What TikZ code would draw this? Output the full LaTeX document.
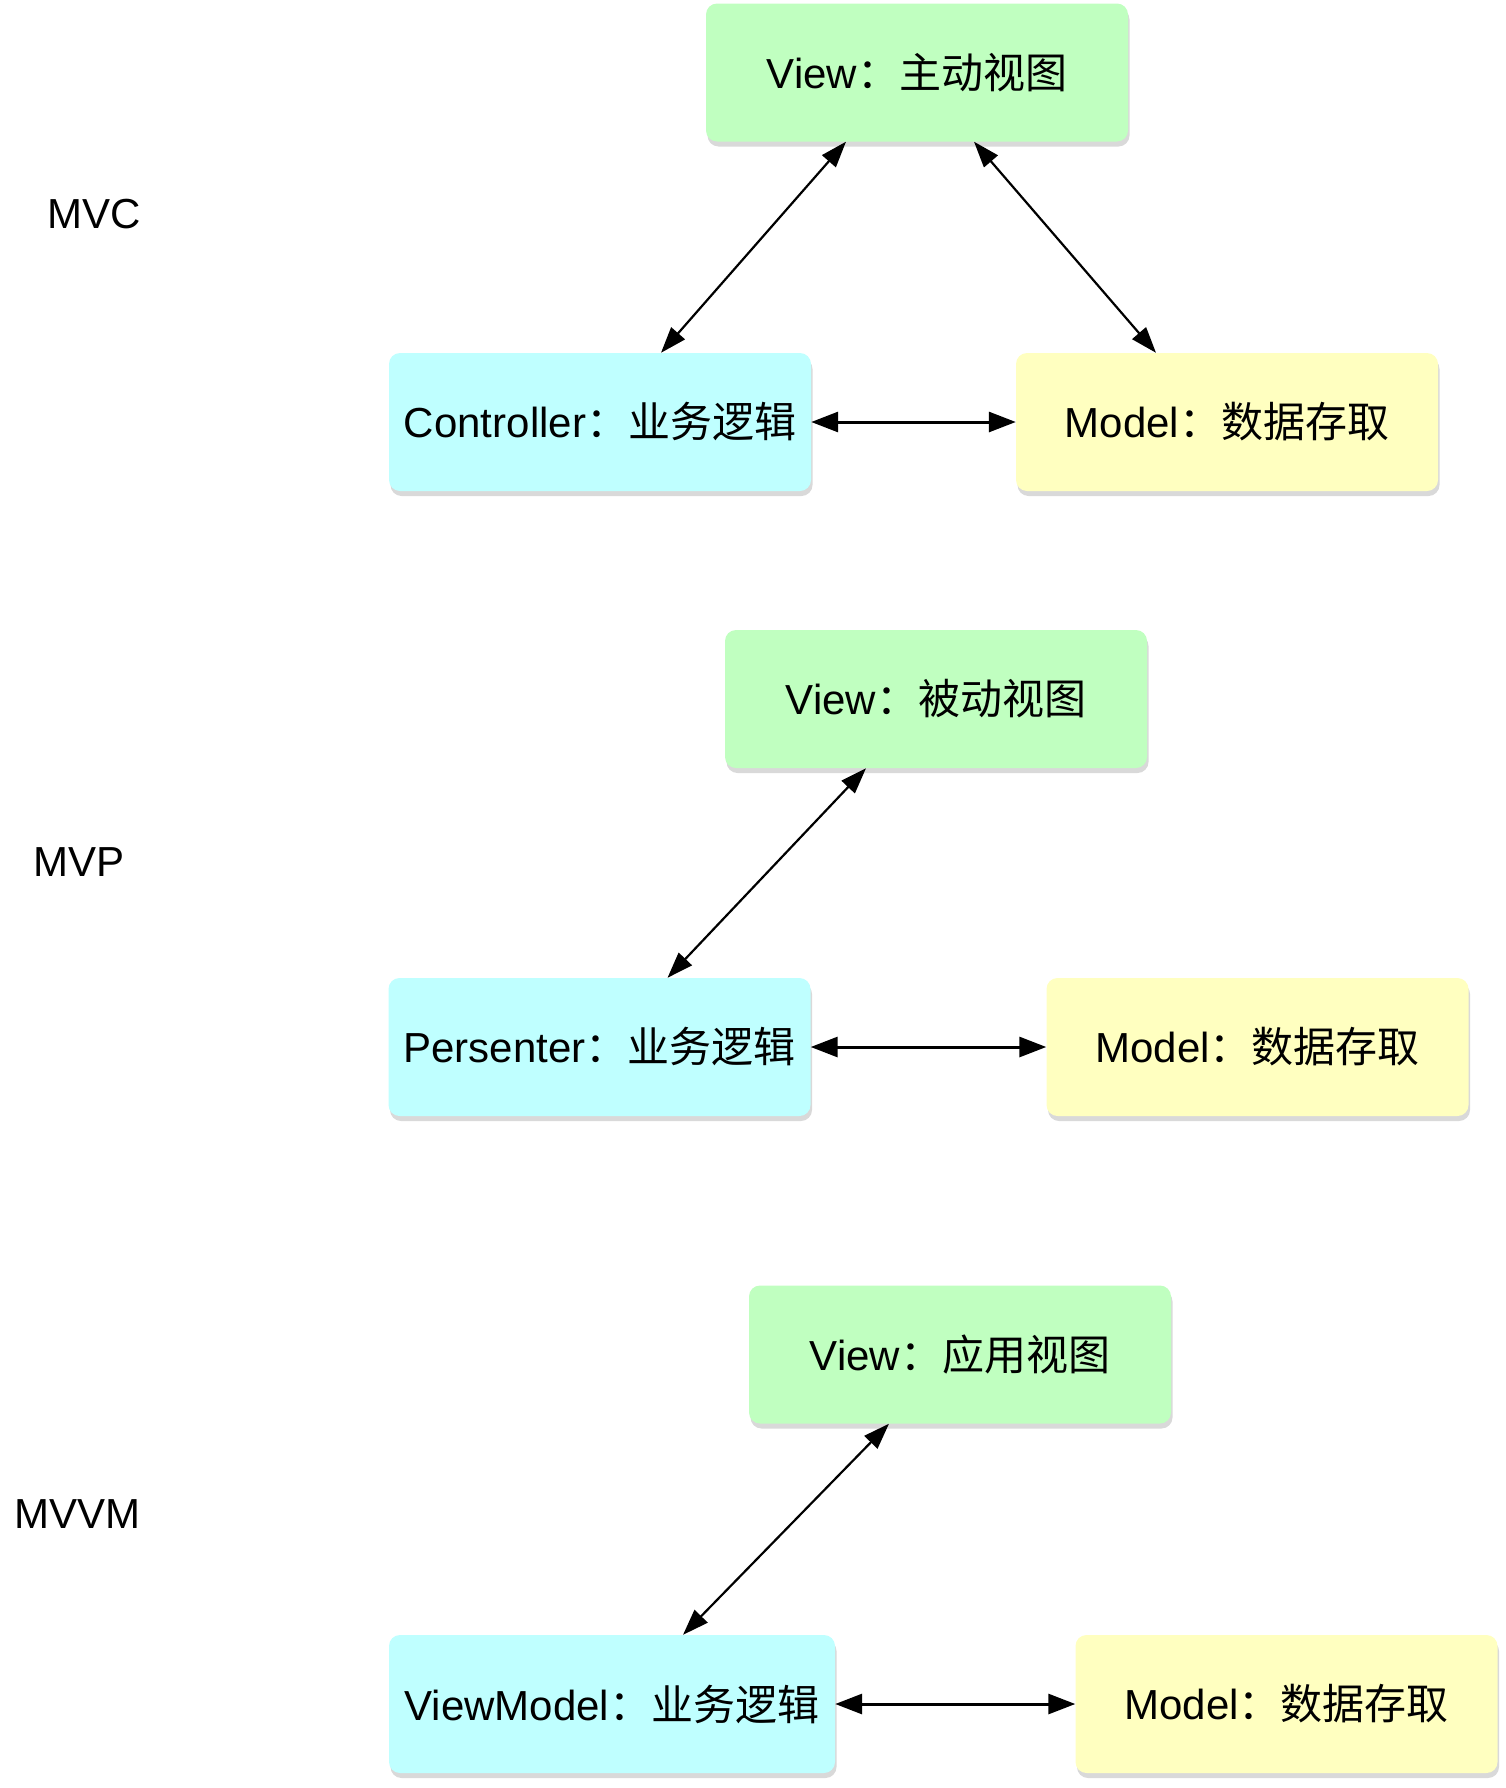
\documentclass[tikz,border=0pt]{standalone}
\usepackage{fontspec}
\setmainfont{Liberation Sans}
\newfontfamily\cjk{Noto Sans CJK SC}
\usepackage{tikz}
\usetikzlibrary{
  shadows,
  arrows.meta,
}

\begin{document}
\begin{tikzpicture}[x=1pt,y=-1pt,
    font=\fontsize{42}{50}\selectfont,
    box/.style={rounded corners=11pt, minimum width=422pt, minimum height=138pt,
        inner sep=0pt, drop shadow={shadow xshift=1.5pt, shadow yshift=-5pt, opacity=0.3}},
    viewbox/.style={box, fill=viewgreen},
    logicbox/.style={box, fill=logiccyan},
    modelbox/.style={box, fill=modelyellow},
    link/.style={{Triangle[length=26pt,width=18pt]}-{Triangle[length=26pt,width=18pt]}, line width=2.2pt},
    hlink/.style={{Triangle[length=27pt,width=20pt]}-{Triangle[length=27pt,width=20pt]}, line width=3pt},
    title/.style={anchor=base west, inner sep=0pt},
  ]
  \definecolor{viewgreen}{RGB}{192,255,192}
  \definecolor{logiccyan}{RGB}{191,255,255}
  \definecolor{modelyellow}{RGB}{255,255,192}
  \useasboundingbox (0,0) rectangle (1505,1788);

  % MVC
  \node[title] (mvc) at (47,228) {MVC};
  \node[viewbox] (mvcview) at (917,72.5) {View{\cjk ：主动视图}};
  \node[logicbox] (mvcctrl) at (600,422) {Controller{\cjk ：业务逻辑}};
  \node[modelbox] (mvcmodel) at (1227,422) {Model{\cjk ：数据存取}};
  \draw[link] ([xshift=-71pt]mvcview.south) -- ([xshift=61pt]mvcctrl.north);
  \draw[link] ([xshift=57pt]mvcview.south) -- ([xshift=-71pt]mvcmodel.north);
  \draw[hlink] (mvcctrl.east) -- (mvcmodel.west);

  % MVP
  \node[title] (mvp) at (33,876) {MVP};
  \node[viewbox] (mvpview) at (936,699) {View{\cjk ：被动视图}};
  \node[logicbox] (mvppres) at (599.5,1047) {Persenter{\cjk ：业务逻辑}};
  \node[modelbox] (mvpmodel) at (1257.5,1047) {Model{\cjk ：数据存取}};
  \draw[link] ([xshift=-70pt]mvpview.south) -- ([xshift=68pt]mvppres.north);
  \draw[hlink] (mvppres.east) -- (mvpmodel.west);

  % MVVM
  \node[title] (mvvm) at (14,1528) {MVVM};
  \node[viewbox] (mvvmview) at (960,1354.5) {View{\cjk ：应用视图}};
  \node[logicbox, minimum width=446pt] (mvvmvm) at (612,1704) {ViewModel{\cjk ：业务逻辑}};
  \node[modelbox] (mvvmmodel) at (1286.5,1704) {Model{\cjk ：数据存取}};
  \draw[link] ([xshift=-71pt]mvvmview.south) -- ([xshift=71pt]mvvmvm.north);
  \draw[hlink] (mvvmvm.east) -- (mvvmmodel.west);
\end{tikzpicture}
\end{document}
